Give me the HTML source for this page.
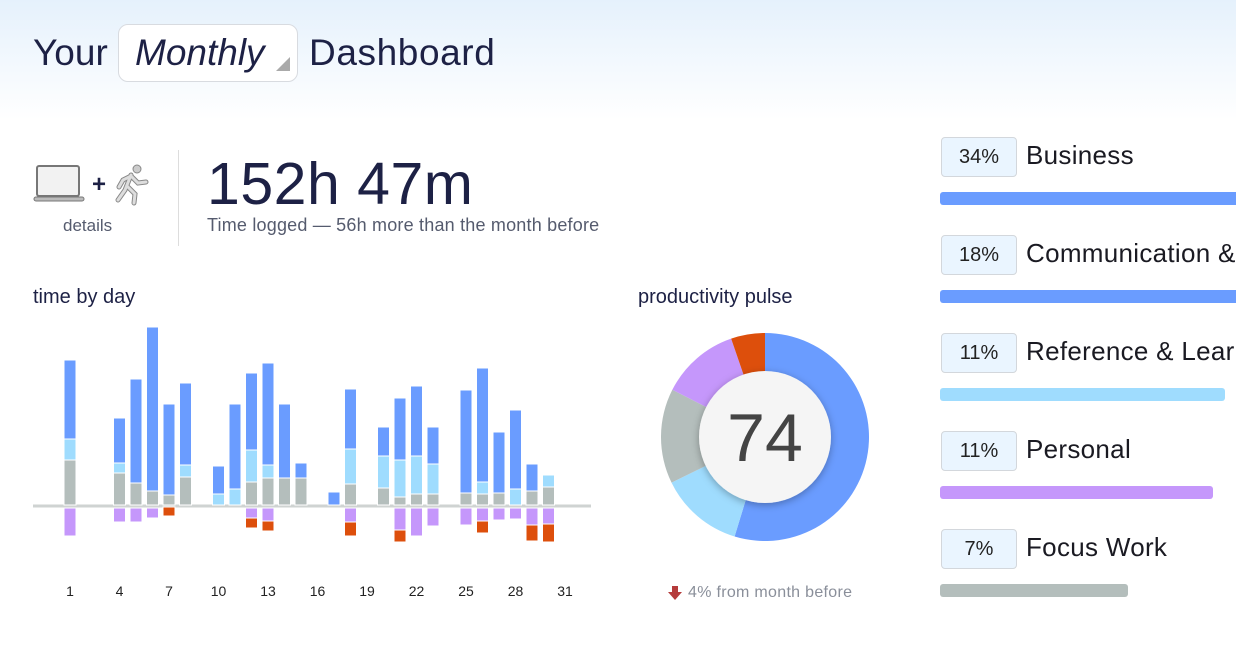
<!DOCTYPE html>
<html><head><meta charset="utf-8"><style>
html,body{margin:0;width:1236px;height:648px;overflow:hidden}
body{background:#fff;font-family:"Liberation Sans",sans-serif;position:relative}
#w{position:absolute;left:0;top:0;width:1236px;height:648px;overflow:hidden}
.bg{position:absolute;left:0;top:0;width:1236px;height:120px;background:linear-gradient(#e5f1fc,#fff)}
.a{position:absolute;white-space:nowrap}
.pill{position:absolute;left:941px;width:74px;height:38px;border:1px solid #d3d7dc;border-radius:4px;background:#eaf5ff;font-size:20px;color:#222;text-align:center;line-height:38px}
.lab{position:absolute;left:1026px;font-size:26px;color:#1a1a22;white-space:nowrap;letter-spacing:0.3px}
.bar{position:absolute;left:940px;height:13px;border-radius:3px}
</style></head><body><div id="w">
<div class="bg"></div>
<div class="a" style="left:33px;top:32px;font-size:37px;color:#1d2145">Your</div>
<div class="a" style="left:118px;top:24px;width:178px;height:56px;border:1px solid #d8dbe0;border-radius:10px;background:#fff"></div>
<div class="a" style="left:135px;top:32px;font-size:37px;font-style:italic;color:#1d2145">Monthly</div>
<div class="a" style="left:276px;top:57px;width:0;height:0;border-left:14px solid transparent;border-bottom:14px solid #aaa"></div>
<div class="a" style="left:309px;top:32px;font-size:37px;color:#1d2145;letter-spacing:0.6px">Dashboard</div>

<svg class="a" style="left:30px;top:160px" width="125" height="50">
<rect x="7" y="6" width="42" height="30" rx="2" fill="#f2f2f2" stroke="#777" stroke-width="2"/>
<rect x="4" y="37" width="50" height="4" rx="2" fill="#bbb" stroke="#777" stroke-width="1"/>
<text x="62" y="32" font-size="24" font-weight="bold" fill="#1d2145" font-family="Liberation Sans">+</text>
<circle cx="107" cy="9" r="4" fill="#ccc" stroke="#888"/>
<path d="M101 15 L95 30 L88 40 M97 26 L105 34 L104 43 M101 16 L93 20 L89 27 M101 16 L108 23 L116 22" stroke="#888" stroke-width="5" fill="none" stroke-linecap="round"/>
<path d="M101 15 L95 30 L88 40 M97 26 L105 34 L104 43 M101 16 L93 20 L89 27 M101 16 L108 23 L116 22" stroke="#ddd" stroke-width="3" fill="none" stroke-linecap="round"/>
</svg>
<div class="a" style="left:63px;top:216px;font-size:17px;color:#555b6e">details</div>
<div class="a" style="left:178px;top:150px;width:1px;height:96px;background:#ddd"></div>
<div class="a" style="left:207px;top:150px;font-size:59px;color:#1d2145;letter-spacing:0.5px">152h 47m</div>
<div class="a" style="left:207px;top:215px;font-size:18px;color:#555b6e;letter-spacing:0.2px">Time logged — 56h more than the month before</div>

<div class="a" style="left:33px;top:286px;font-size:20px;color:#1d2145">time by day</div>
<div class="a" style="left:638px;top:286px;font-size:20px;color:#1d2145">productivity pulse</div>

<svg id="ch" class="a" style="left:0;top:0" width="620" height="620"></svg>

<svg class="a" style="left:655px;top:327px" width="220" height="220">
<defs><filter id="sh" x="-30%" y="-30%" width="160%" height="160%"><feDropShadow dx="0" dy="2" stdDeviation="4" flood-color="#000" flood-opacity="0.3"/></filter></defs>
<g id="dn"></g>
<circle cx="110" cy="110" r="66" fill="#f5f5f5" filter="url(#sh)"/>
<text x="110" y="134" text-anchor="middle" font-size="68" fill="#444" font-family="Liberation Sans">74</text>
</svg>
<svg class="a" style="left:668px;top:586px" width="16" height="14"><path d="M4 0h6v6h4l-7 8-7-8h4z" fill="#b53b3b"/></svg>
<div class="a" style="left:688px;top:584px;font-size:16px;color:#8a8f9a;letter-spacing:0.3px">4% from month before</div>

<div class="pill" style="top:137px">34%</div><div class="lab" style="top:140px">Business</div>
<div class="bar" style="top:192px;width:310px;background:#6a9cff"></div>
<div class="pill" style="top:235px">18%</div><div class="lab" style="top:238px">Communication &amp; Scheduling</div>
<div class="bar" style="top:290px;width:310px;background:#6a9cff"></div>
<div class="pill" style="top:333px">11%</div><div class="lab" style="top:336px">Reference &amp; Learning</div>
<div class="bar" style="top:388px;width:285px;background:#9fdcfe"></div>
<div class="pill" style="top:431px">11%</div><div class="lab" style="top:434px">Personal</div>
<div class="bar" style="top:486px;width:273px;background:#c597fb"></div>
<div class="pill" style="top:529px">7%</div><div class="lab" style="top:532px">Focus Work</div>
<div class="bar" style="top:584px;width:188px;background:#b4bebc"></div>
</div>
<script>
var B=505,C={b:"#6a9cff",l:"#9fdcfe",g:"#b4bebc",p:"#c597fb",o:"#dd4f0c"};
var D=[[1,360,439,460,536,536],[4,418,463,473,522,522],[5,379,483,483,522,522],[6,327,491,491,518,518],[7,404,495,495,507,516],
[8,383,465,477,505,505],[10,466,494,505,505,505],[11,404,489,505,505,505],[12,373,450,482,518,528],[13,363,465,478,521,531],
[14,404,478,478,505,505],[15,463,478,478,505,505],[17,492,505,505,505,505],[18,389,449,484,522,536],[20,427,456,488,505,505],
[21,398,460,497,530,542],[22,386,456,494,536,536],[23,427,464,494,526,526],[25,390,493,493,525,525],[26,368,482,494,521,533],
[27,432,493,493,520,520],[28,410,489,505,519,519],[29,464,491,491,525,541],[30,475,475,487,524,542]];
var s='<line x1="33" y1="506" x2="591" y2="506" stroke="#cfd3d2" stroke-width="3"/>';
function r(x,y1,y2,c){if(y2-y1>0.5)s+='<rect x="'+x+'" y="'+y1+'" width="12" height="'+(y2-y1)+'" fill="'+c+'" stroke="#fff" stroke-width="1"/>';}
D.forEach(function(d){var x=70+(d[0]-1)*16.5-6;r(x,d[1],d[2],C.b);r(x,d[2],d[3],C.l);r(x,d[3],B,C.g);r(x,508,d[4],C.p);r(x,d[4],d[5],C.o);});
[1,4,7,10,13,16,19,22,25,28,31].forEach(function(d){s+='<text x="'+(70+(d-1)*16.5)+'" y="596" text-anchor="middle" font-size="14" fill="#222" font-family="Liberation Sans">'+d+'</text>';});
document.getElementById('ch').innerHTML=s;
var segs=[[0,197,C.b],[197,244,C.l],[244,297,C.g],[297,341,C.p],[341,360,C.o]],t='';
function pt(a,rr){a=a*Math.PI/180;return [110+rr*Math.sin(a),110-rr*Math.cos(a)];}
segs.forEach(function(g){var R=104,q=60,a=pt(g[0],R),b=pt(g[1],R),c=pt(g[1],q),d=pt(g[0],q),L=(g[1]-g[0])>180?1:0;
t+='<path d="M'+a+' A'+R+' '+R+' 0 '+L+' 1 '+b+' L'+c+' A'+q+' '+q+' 0 '+L+' 0 '+d+'Z" fill="'+g[2]+'"/>';});
document.getElementById('dn').innerHTML=t;
</script>
</body></html>
